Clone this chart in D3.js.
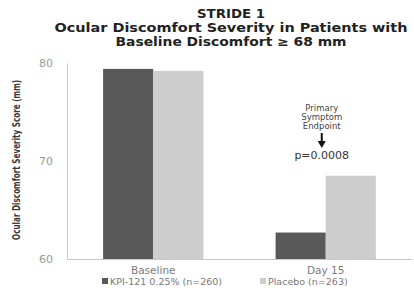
<!DOCTYPE html>
<html>
<head>
<meta charset="utf-8">
<script src="https://cdn.jsdelivr.net/npm/d3@7"></script>
<style>
  body { margin: 0; background: #fff; }
  text { font-family: "DejaVu Sans", sans-serif; }
</style>
</head>
<body>
<div id="chart"></div>
<script>
// data
var categories = ["Baseline", "Day 15"];
var seriesNames = ["KPI-121 0.25% (n=260)", "Placebo (n=263)"];
var kpiValues = [79.4, 62.7];
var placeboValues = [79.2, 68.5];
var yTicks = [60, 70, 80];
var titleLines = ["STRIDE 1", "Ocular Discomfort Severity in Patients with", "Baseline Discomfort \u2265 68 mm"];
var noteLines = ["Primary", "Symptom", "Endpoint"];
var pText = "p=0.0008";

var W = 414, H = 299;
var margin = { top: 63, right: 2, bottom: 40, left: 67 },
    width = W - margin.left - margin.right,
    height = H - margin.top - margin.bottom;

var root = d3.select("#chart")
    .append("svg")
    .attr("width", W)
    .attr("height", H);

var titleWidths = [68, 353, 231];
root.append("text")
    .attr("x", 231)
    .attr("y", 18)
    .attr("text-anchor", "middle")
    .attr("font-weight", "bold")
    .attr("font-size", "12px")
    .style("fill", "#222")
    .selectAll("tspan")
    .data(titleLines)
    .enter().append("tspan")
    .attr("x", 231)
    .attr("dy", function (d, i) { return i == 0 ? 0 : 14; })
    .attr("textLength", function (d, i) { return titleWidths[i]; })
    .attr("lengthAdjust", "spacingAndGlyphs")
    .text(function (d) { return d; });

var svg = root.append("g")
    .attr("transform", "translate(" + margin.left + "," + margin.top + ")");

var data = categories.map(function (c, i) {
    return { cat: c, vals: [kpiValues[i], placeboValues[i]] };
});

var x = d3.scaleBand()
    .domain(categories)
    .range([0, width])
    .paddingInner(0)
    .paddingOuter(0);

var xSub = d3.scaleBand()
    .domain([0, 1])
    .range([0, x.bandwidth()])
    .paddingOuter(0.72)
    .paddingInner(0);

var y = d3.scaleLinear()
    .domain([60, 80])
    .range([height, 0]);

var color = ["#595959", "#cdcdcd"];

// bars
svg.append("g")
    .selectAll("g")
    .data(data)
    .enter()
    .append("g")
    .attr("transform", function (d) { return "translate(" + x(d.cat) + ",0)"; })
    .selectAll("rect")
    .data(function (d) { return d.vals.map(function (v, k) { return { k: k, v: v }; }); })
    .enter().append("rect")
    .attr("x", function (d) { return xSub(d.k); })
    .attr("y", function (d) { return y(d.v); })
    .attr("width", xSub.bandwidth())
    .attr("height", function (d) { return height - y(d.v); })
    .attr("fill", function (d) { return color[d.k]; });

// y axis
var yAxis = svg.append("g")
    .call(d3.axisLeft(y).tickValues(yTicks).tickSize(0).tickPadding(14));
yAxis.select(".domain").attr("stroke", "#c8c8c8");
yAxis.selectAll("text")
    .attr("font-size", "11px")
    .style("fill", "#9a9a9a")
    .style("font-family", "DejaVu Sans");

// x axis
var xAxis = svg.append("g")
    .attr("transform", "translate(0," + height + ")")
    .call(d3.axisBottom(x).tickSize(0).tickPadding(8));
xAxis.select(".domain").attr("stroke", "#c8c8c8");
xAxis.selectAll("text")
    .attr("font-size", "10.5px")
    .style("fill", "#7a7a7a")
    .style("font-family", "DejaVu Sans");

// y axis title
root.append("text")
    .attr("transform", "translate(20,160) rotate(-90)")
    .attr("text-anchor", "middle")
    .attr("font-size", "10px")
    .attr("font-weight", "bold")
    .attr("textLength", 160)
    .attr("lengthAdjust", "spacingAndGlyphs")
    .style("font-family", "DejaVu Sans Condensed")
    .style("fill", "#3a3a3a")
    .text("Ocular Discomfort Severity Score (mm)");

// annotation over Day 15
var ax = margin.left + x("Day 15") + x.bandwidth() / 2 - 4;
root.append("text")
    .attr("text-anchor", "middle")
    .attr("font-size", "8.5px")
    .style("fill", "#444")
    .selectAll("tspan")
    .data(noteLines)
    .enter().append("tspan")
    .attr("x", ax)
    .attr("y", function (d, i) { return 111 + i * 9; })
    .text(function (d) { return d; });

root.append("line")
    .attr("x1", ax).attr("x2", ax)
    .attr("y1", 133).attr("y2", 143)
    .attr("stroke", "#111")
    .attr("stroke-width", 2);
root.append("path")
    .attr("d", "M" + (ax - 4) + ",141 L" + (ax + 4) + ",141 L" + ax + ",148 Z")
    .attr("fill", "#111");

root.append("text")
    .attr("x", ax)
    .attr("y", 159)
    .attr("text-anchor", "middle")
    .attr("font-size", "11px")
    .style("fill", "#333")
    .text(pText);

// legend
var legend = root.append("g");
var legX = [102, 260];
seriesNames.forEach(function (name, i) {
    legend.append("rect")
        .attr("x", legX[i])
        .attr("y", 278)
        .attr("width", 6)
        .attr("height", 6)
        .attr("fill", color[i]);
    legend.append("text")
        .attr("x", legX[i] + 8)
        .attr("y", 285)
        .attr("font-size", "9.5px")
        .style("fill", "#7a7a7a")
        .text(name);
});
</script>
</body>
</html>
